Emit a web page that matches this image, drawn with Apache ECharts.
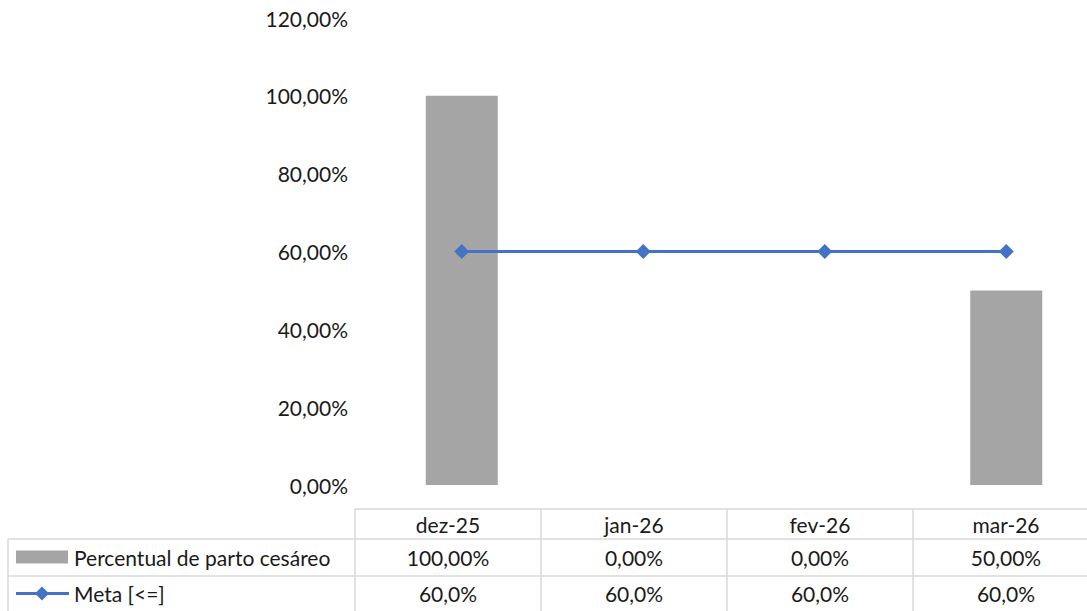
<!DOCTYPE html>
<html>
<head>
<meta charset="utf-8">
<script src="https://cdn.jsdelivr.net/npm/echarts@6/dist/echarts.min.js"></script>
<style>
  html, body { margin: 0; padding: 0; background: #fff; overflow: hidden; }
  #chart { width: 1110px; height: 611px; }
</style>
</head>
<body>
<div id="chart"></div>
<script>
const categories = ['dez-25', 'jan-26', 'fev-26', 'mar-26']
const cesareo = [100, 0, 0, 50]
const meta = [60, 60, 60, 60]
const seriesNames = ['Percentual de parto cesáreo', 'Meta [<=]']

const FONT = 'Lato'
const FS = 21
const TEXT = '#1a1a1a'
const BORDER = '#d9d9d9'
const GRAY = '#a5a5a5'
const BLUE = '#4472c4'

const pct2 = v => v.toFixed(2).replace('.', ',') + '%'
const pct1 = v => v.toFixed(1).replace('.', ',') + '%'

// data table under the plot (Excel draws it a bit offset from the plot bands)
const rowLines = [509, 539, 576, 611]
const colLines = [355, 541, 727, 913, 1099]
const leftX = 8

function buildTable() {
  const g = []
  const line = (x1, y1, x2, y2) => g.push({
    type: 'line', silent: true,
    shape: { x1, y1, x2, y2 },
    style: { stroke: BORDER, lineWidth: 1.5 }
  })
  line(colLines[0], rowLines[0], colLines[4], rowLines[0])
  line(leftX, rowLines[1], colLines[4], rowLines[1])
  line(leftX, rowLines[2], colLines[4], rowLines[2])
  line(leftX, rowLines[1], leftX, rowLines[3])
  colLines.forEach(x => line(x, rowLines[0], x, rowLines[3]))

  const font = FS + 'px ' + FONT
  const rows = [categories, cesareo.map(pct2), meta.map(pct1)]
  rows.forEach((row, r) => {
    const cy = (rowLines[r] + rowLines[r + 1]) / 2
    row.forEach((txt, c) => {
      g.push({
        type: 'text', silent: true,
        x: (colLines[c] + colLines[c + 1]) / 2, y: cy,
        style: { text: txt, fill: TEXT, font, align: 'center', verticalAlign: 'middle' }
      })
    })
  })

  // legend keys in first column
  const cy1 = (rowLines[1] + rowLines[2]) / 2
  const cy2 = (rowLines[2] + rowLines[3]) / 2
  g.push({ type: 'rect', silent: true, shape: { x: 16, y: cy1 - 7, width: 52, height: 13 }, style: { fill: GRAY } })
  g.push({ type: 'line', silent: true, shape: { x1: 16, y1: cy2, x2: 69, y2: cy2 }, style: { stroke: BLUE, lineWidth: 3 } })
  g.push({ type: 'polygon', silent: true, shape: { points: [[42, cy2 - 7], [49, cy2], [42, cy2 + 7], [35, cy2]] }, style: { fill: BLUE } })
  g.push({ type: 'text', silent: true, x: 74, y: cy1, style: { text: seriesNames[0], fill: TEXT, font, verticalAlign: 'middle' } })
  g.push({ type: 'text', silent: true, x: 74, y: cy2, style: { text: seriesNames[1], fill: TEXT, font, verticalAlign: 'middle' } })
  return g
}

const chart = echarts.init(document.getElementById('chart'), null, { renderer: 'svg' })
chart.setOption({
  animation: false,
  grid: { left: 371, top: 18, width: 726, height: 467, containLabel: false },
  xAxis: {
    type: 'category',
    data: categories,
    axisLine: { show: false },
    axisTick: { show: false },
    axisLabel: { show: false }
  },
  yAxis: {
    type: 'value',
    min: 0, max: 120, interval: 20,
    splitLine: { show: false },
    axisLine: { show: false },
    axisTick: { show: false },
    axisLabel: { formatter: v => pct2(v), color: TEXT, fontFamily: FONT, fontSize: FS, margin: 23 }
  },
  series: [
    {
      name: seriesNames[0], type: 'bar', data: cesareo, barWidth: 72,
      itemStyle: { color: GRAY }
    },
    {
      name: seriesNames[1], type: 'line', data: meta,
      symbol: 'diamond', symbolSize: 15,
      lineStyle: { color: BLUE, width: 3 },
      itemStyle: { color: BLUE }
    }
  ],
  graphic: buildTable()
})
</script>
</body>
</html>
